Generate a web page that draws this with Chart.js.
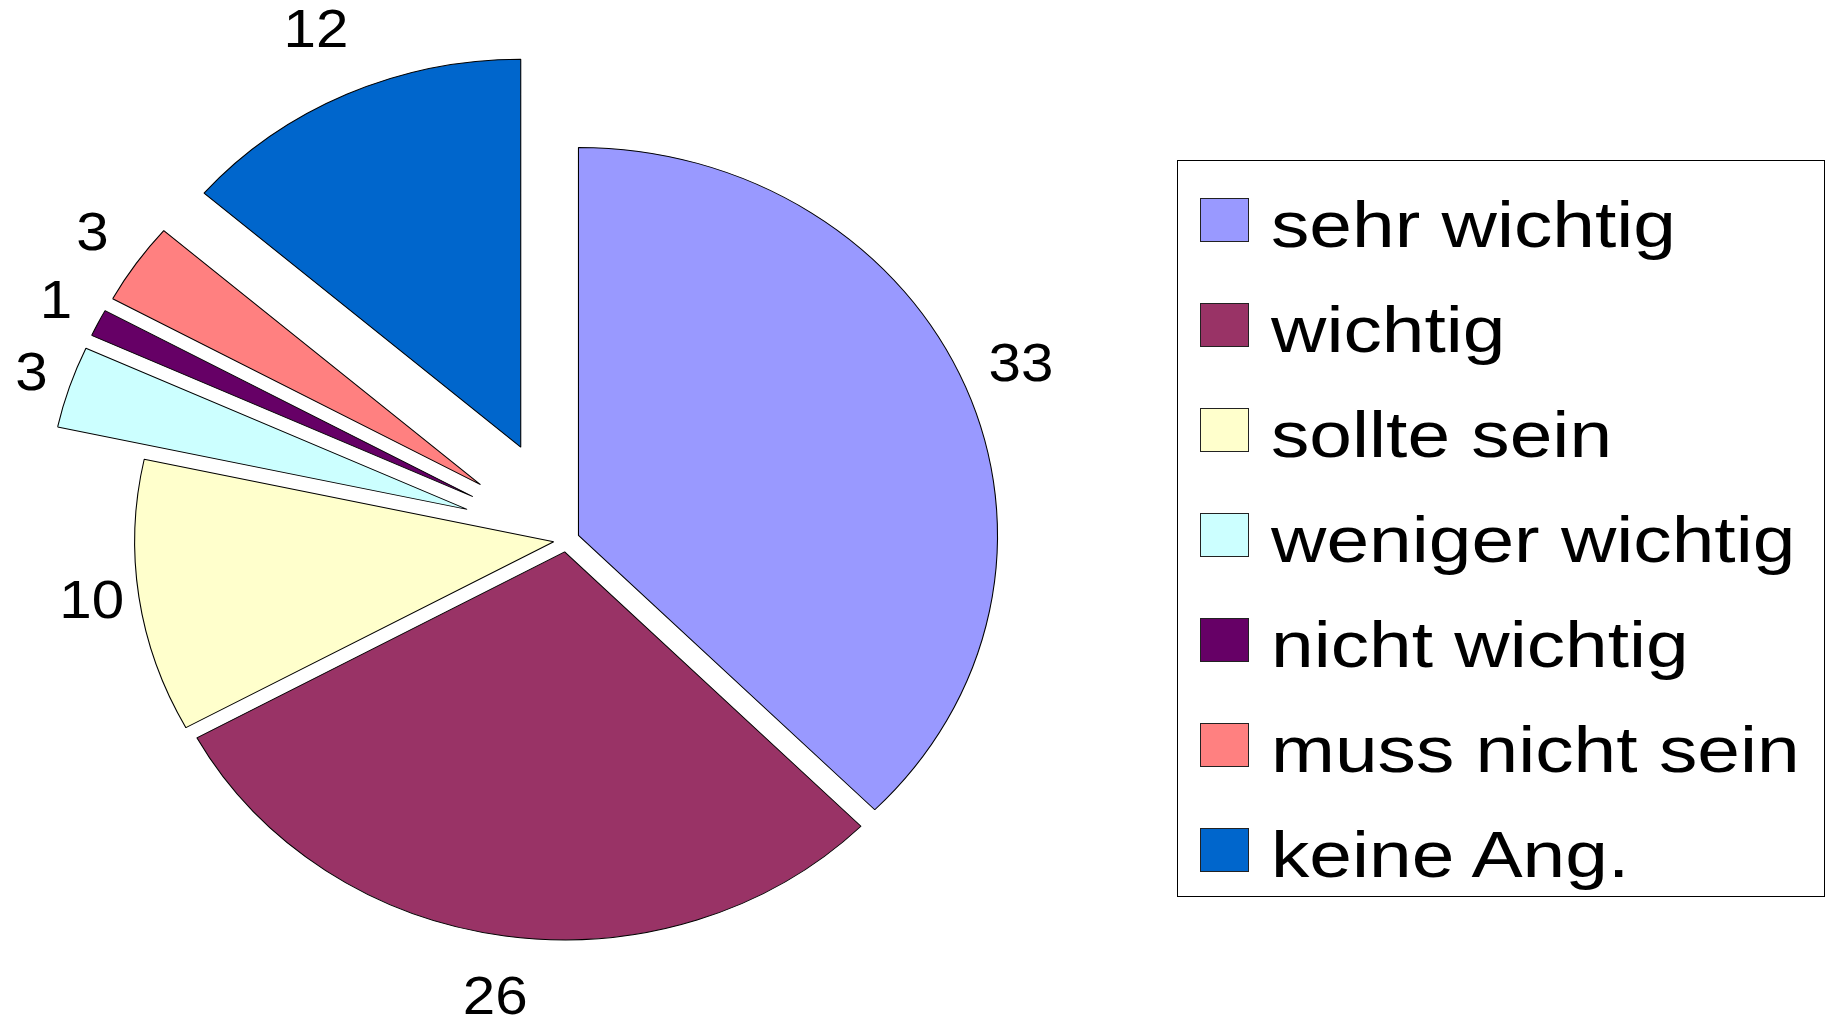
<!DOCTYPE html>
<html>
<head>
<meta charset="utf-8">
<script src="https://cdn.jsdelivr.net/npm/chart.js@4.4.0/dist/chart.umd.min.js"></script>
<style>
    body { margin: 0; background: #fff; }
    #wrap { position: relative; width: 1827px; height: 1025px; }
    #legend {
        position: absolute; left: 1177px; top: 160px; width: 648px; height: 737px;
        border: 1px solid #000; box-sizing: border-box;
        font-family: "Liberation Sans", Arial, sans-serif;
    }
    .row { position: absolute; left: 0; width: 100%; height: 105px; }
    .sw { position: absolute; left: 22px; top: 36.7px; width: 49px; height: 44px; border: 1px solid #222; box-sizing: border-box; }
    .tx {
        position: absolute; left: 93px; top: 30.7px; font-size: 65px; line-height: 65px;
        white-space: nowrap; color: #000; transform: scaleX(1.18); transform-origin: left top;
    }
</style>
</head>
<body>
<div id="wrap">
    <canvas id="pieChart" width="1827" height="1025"></canvas>
    <div id="legend"></div>
</div>
<script>
const categories = ["sehr wichtig", "wichtig", "sollte sein", "weniger wichtig", "nicht wichtig", "muss nicht sein", "keine Ang."];
const counts = [33, 26, 10, 3, 1, 3, 12];
const sliceColors = ["#9999FF", "#993366", "#FFFFCC", "#CCFFFF", "#660066", "#FF8080", "#0066CC"];
const explode = [12, 12, 12, 97, 97, 97, 102];

const stretchX = 1.08;   // the pie is a bit wider than tall
const textStretch = 1.08;

// legend box on the right
const legend = document.getElementById("legend");
categories.forEach((name, i) => {
    const row = document.createElement("div");
    row.className = "row";
    row.style.top = (i * 105.1) + "px";
    const sw = document.createElement("div");
    sw.className = "sw";
    sw.style.background = sliceColors[i];
    const tx = document.createElement("span");
    tx.className = "tx";
    tx.textContent = name;
    row.appendChild(sw);
    row.appendChild(tx);
    legend.appendChild(row);
});

const pieShape = {
    id: "pieShape",
    afterDatasetUpdate(chart, args) {
        args.meta.data.forEach((arc, i) => {
            const mid = (arc.startAngle + arc.endAngle) / 2;
            arc.x += Math.cos(mid) * explode[i];
            arc.y += Math.sin(mid) * explode[i];
        });
    },
    beforeDatasetsDraw(chart) {
        const { ctx, chartArea } = chart;
        const cx = (chartArea.left + chartArea.right) / 2;
        ctx.save();
        ctx.translate(cx, 0);
        ctx.scale(stretchX, 1);
        ctx.translate(-cx, 0);
    },
    afterDatasetsDraw(chart) {
        const { ctx, chartArea } = chart;
        ctx.restore();
        const cx = (chartArea.left + chartArea.right) / 2;
        ctx.save();
        ctx.font = '54px "Liberation Sans", Arial, sans-serif';
        ctx.fillStyle = "#000";
        ctx.textAlign = "center";
        ctx.textBaseline = "middle";
        chart.getDatasetMeta(0).data.forEach((arc, i) => {
            const text = String(counts[i]);
            const mid = (arc.startAngle + arc.endAngle) / 2;
            const c = Math.cos(mid), s = Math.sin(mid);
            const w = ctx.measureText(text).width * textStretch;
            const dist = arc.outerRadius + 4 + Math.abs(c) * w / 2 + Math.abs(s) * 56;
            const x = cx + (arc.x + c * dist - cx) * stretchX;
            const y = arc.y + s * dist;
            ctx.save();
            ctx.translate(x, y);
            ctx.scale(textStretch, 1);
            ctx.fillText(text, 0, 0);
            ctx.restore();
        });
        ctx.restore();
    }
};

new Chart(document.getElementById("pieChart"), {
    type: "pie",
    data: {
        labels: categories,
        datasets: [{
            data: counts,
            backgroundColor: sliceColors,
            borderColor: "#000",
            borderWidth: 1,
            clip: false
        }]
    },
    options: {
        responsive: false,
        animation: false,
        events: [],
        radius: 388,
        layout: { padding: { left: 0, right: 694, top: 55, bottom: 0 } },
        plugins: {
            legend: { display: false },
            tooltip: { enabled: false }
        }
    },
    plugins: [pieShape]
});
</script>
</body>
</html>
